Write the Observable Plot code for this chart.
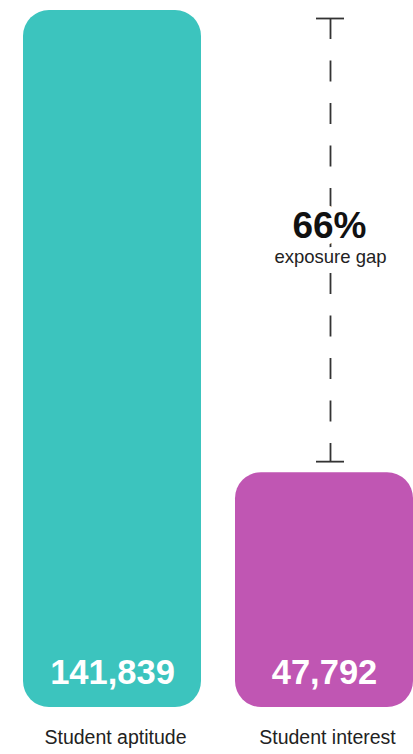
<!DOCTYPE html>
<html>
<head>
<meta charset="utf-8">
<script src="https://cdn.jsdelivr.net/npm/d3@7"></script>
<script src="https://cdn.jsdelivr.net/npm/@observablehq/plot@0.6"></script>
<style>
  html, body { margin: 0; padding: 0; background: #ffffff; }
  #chart svg { display: block; }
</style>
</head>
<body>
<div id="chart"></div>
<script>
const categories = ["Student aptitude", "Student interest"];
const values = [141839, 47792];
const valueLabels = ["141,839", "47,792"];
const colors = ["#3cc4be", "#c056b3"];
const gapLabel = "66%";
const gapCaption = "exposure gap";

const data = categories.map((c, i) => ({category: c, value: values[i], label: valueLabels[i]}));
const gap = [{category: categories[1], low: values[1], high: values[0], mid: (values[0] + values[1]) / 2}];

const chart = Plot.plot({
  width: 413,
  height: 754,
  marginTop: 10,
  marginBottom: 47,
  marginLeft: 0,
  marginRight: 0,
  style: {fontFamily: "'Liberation Sans', Arial, Helvetica, sans-serif", background: "#ffffff"},
  x: {domain: categories, range: [23, 413], paddingInner: 0.1604, paddingOuter: 0},
  y: {domain: [0, d3.max(values)], axis: null},
  color: {domain: categories, range: colors},
  marks: [
    Plot.barY(data, {x: "category", y: "value", fill: "category", rx: 26, ry: 26}),
    Plot.text(data, {x: "category", text: "label", frameAnchor: "bottom", lineAnchor: "middle", dy: -34.5,
      fill: "white", fontSize: 34.5, fontWeight: "bold"}),
    Plot.axisX({tickSize: 0, tickPadding: 23, fontSize: 19.5, fill: "#222", dx: 3, label: null}),
    Plot.ruleX(gap, {x: "category", y1: "high", y2: "low", insetTop: 8, insetBottom: 11, dx: 6,
      stroke: "#333", strokeWidth: 1.8, strokeDasharray: "21,21.5"}),
    Plot.tickY(gap, {x: "category", y: "high", dy: 8, dx: 6, insetLeft: 75, insetRight: 75, stroke: "#333", strokeWidth: 1.8}),
    Plot.tickY(gap, {x: "category", y: "low", dy: -11, dx: 6, insetLeft: 75, insetRight: 75, stroke: "#333", strokeWidth: 1.8}),
    Plot.text(gap, {x: "category", y: "mid", text: () => gapLabel, lineAnchor: "middle", dy: -15, dx: 5,
      fontSize: 37, fontWeight: "bold", fill: "#111", stroke: "white", strokeWidth: 14}),
    Plot.text(gap, {x: "category", y: "mid", text: () => gapCaption, lineAnchor: "middle", dy: 16, dx: 6,
      fontSize: 18.5, fill: "#222", stroke: "white", strokeWidth: 12})
  ]
});
document.getElementById("chart").appendChild(chart);
</script>
</body>
</html>
